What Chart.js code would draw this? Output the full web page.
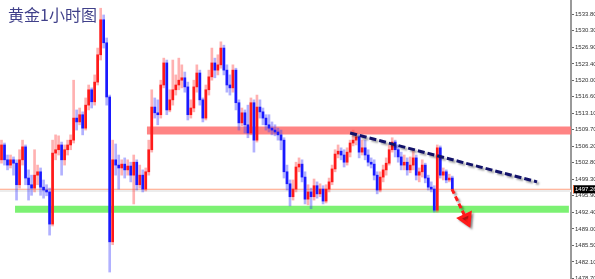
<!DOCTYPE html>
<html>
<head>
<meta charset="utf-8">
<script src="https://cdn.jsdelivr.net/npm/chart.js@4.4.0/dist/chart.umd.min.js"></script>
<style>
body{margin:0;background:#fff;}
#box{position:relative;width:595px;height:279px;}
#title{position:absolute;left:8px;top:6px;font-family:"Noto Sans CJK SC";font-size:16px;line-height:16px;color:#40408a;}
</style>
</head>
<body>
<div id="box">
<canvas id="myChart"></canvas>
<div id="title">黄金1小时图</div>
</div>
<script>
// gold 1h candles (index = bar number)
let opens = [
1503.4,1506.5,1503.4,1502.3,1503.4,1502.7,1498.2,1503.4,1506.1,1499.6,
1498.2,1497.5,1500.2,1500.9,1497.7,1497.1,1496.7,1490.0,1504.8,1505.5,
1506.5,1503.4,1505.5,1506.5,1507.5,1512.1,1511.3,1512.8,1510.0,1514.8,
1518.0,1515.5,1519.6,1525.3,1532.6,1527.8,1516.5,1486.3,1503.4,1502.3,
1501.7,1502.5,1501.3,1502.1,1500.2,1502.9,1498.2,1500.2,1497.3,1500.9,
1505.5,1514.4,1513.2,1512.8,1519.0,1523.6,1513.8,1515.9,1518.0,1519.0,
1520.0,1520.5,1518.6,1512.8,1514.2,1518.6,1521.5,1515.9,1512.1,1518.0,
1520.7,1523.6,1522.1,1523.2,1526.7,1522.1,1519.0,1518.4,1522.1,1515.3,
1511.1,1513.2,1510.7,1509.0,1515.3,1507.5,1514.4,1513.4,1512.1,1510.7,
1510.0,1509.6,1509.2,1508.6,1507.5,1500.9,1498.4,1495.7,1497.3,1501.9,
1502.5,1499.8,1495.2,1496.7,1495.7,1498.0,1496.3,1497.3,1494.8,1497.3,
1498.8,1501.5,1504.6,1505.2,1504.4,1502.9,1505.0,1506.9,1507.5,1508.2,
1505.0,1505.9,1504.4,1502.9,1502.5,1500.2,1497.1,1499.8,1501.3,1502.7,
1505.5,1507.1,1505.5,1504.0,1502.3,1502.9,1501.3,1502.3,1503.8,1500.2,
1500.9,1502.3,1499.6,1497.7,1497.3,1492.9,1505.9,1500.2,1500.9,1499.2,
1499.6];
let closes = [
1506.5,1503.4,1502.3,1503.4,1502.7,1498.2,1503.4,1506.1,1499.6,1498.2,
1497.5,1500.2,1500.9,1497.7,1497.1,1496.7,1490.0,1504.8,1505.5,1506.5,
1503.4,1505.5,1506.5,1507.5,1512.1,1511.3,1512.8,1510.0,1514.8,1518.0,
1515.5,1519.6,1525.3,1532.6,1527.8,1516.5,1486.3,1503.4,1502.3,1501.7,
1502.5,1501.3,1502.1,1500.2,1502.9,1498.2,1500.2,1497.3,1500.9,1505.5,
1514.4,1513.2,1512.8,1519.0,1523.6,1513.8,1515.9,1518.0,1519.0,1520.0,
1520.5,1518.6,1512.8,1514.2,1518.6,1521.5,1515.9,1512.1,1518.0,1520.7,
1523.6,1522.1,1523.2,1526.7,1522.1,1519.0,1518.4,1522.1,1515.3,1511.1,
1513.2,1510.7,1509.0,1515.3,1507.5,1514.4,1513.4,1512.1,1510.7,1510.0,
1509.6,1509.2,1508.6,1507.5,1500.9,1498.4,1495.7,1497.3,1501.9,1502.5,
1499.8,1495.2,1496.7,1495.7,1498.0,1496.3,1497.3,1494.8,1497.3,1498.8,
1501.5,1504.6,1505.2,1504.4,1502.9,1505.0,1506.9,1507.5,1508.2,1505.0,
1505.9,1504.4,1502.9,1502.5,1500.2,1497.1,1499.8,1501.3,1502.7,1505.5,
1507.1,1505.5,1504.0,1502.3,1502.9,1501.3,1502.3,1503.8,1500.2,1500.9,
1502.3,1499.6,1497.7,1497.3,1492.9,1505.9,1500.2,1500.9,1499.2,1499.6,
1497.3];
let highs = [
1507.5,1506.9,1504.4,1504.4,1504.0,1503.4,1505.5,1507.5,1506.5,1501.3,
1500.2,1505.5,1502.3,1501.7,1499.2,1498.2,1497.5,1507.5,1508.6,1508.4,
1507.1,1506.5,1507.5,1508.6,1520.0,1513.8,1514.2,1513.4,1516.3,1519.0,
1518.4,1521.1,1526.7,1535.0,1533.6,1528.8,1516.9,1507.5,1506.7,1504.4,
1503.4,1503.8,1503.4,1502.9,1504.4,1503.4,1502.3,1501.3,1501.7,1507.5,
1518.0,1516.3,1515.9,1520.0,1524.6,1524.2,1518.0,1524.2,1521.1,1524.6,
1523.2,1521.7,1519.6,1515.9,1520.0,1523.2,1522.1,1516.3,1519.0,1522.1,
1526.7,1524.6,1525.3,1528.0,1527.3,1523.2,1521.1,1523.2,1522.5,1515.9,
1514.2,1513.8,1514.8,1516.3,1515.9,1516.9,1515.9,1514.2,1512.8,1512.8,
1511.3,1510.7,1510.0,1509.6,1508.0,1502.3,1499.2,1499.2,1502.9,1503.8,
1503.4,1500.9,1498.2,1497.5,1499.4,1498.8,1498.4,1498.0,1498.2,1499.6,
1502.3,1505.5,1506.5,1505.9,1505.5,1505.9,1507.5,1509.6,1509.0,1508.6,
1507.5,1507.5,1505.5,1503.8,1503.4,1500.9,1500.9,1502.3,1503.8,1506.5,
1508.0,1507.5,1506.5,1505.0,1504.4,1503.8,1504.0,1505.5,1504.4,1501.7,
1503.4,1502.7,1500.2,1498.8,1498.0,1506.5,1506.3,1501.7,1501.3,1500.4,
1500.0];
let lows = [
1502.7,1502.3,1501.3,1501.7,1500.2,1495.0,1497.5,1502.3,1498.2,1495.0,
1496.0,1496.7,1498.2,1496.0,1495.4,1495.9,1487.7,1489.6,1503.4,1504.4,
1500.2,1502.3,1504.4,1505.5,1506.9,1509.6,1510.7,1508.6,1509.6,1513.8,
1514.2,1514.8,1519.0,1524.2,1526.7,1514.8,1480.0,1485.7,1500.2,1497.3,
1500.2,1499.6,1500.2,1498.8,1494.2,1497.1,1497.5,1496.7,1496.9,1500.2,
1505.0,1512.1,1510.7,1512.1,1518.4,1512.8,1513.4,1514.8,1516.9,1518.0,
1518.4,1517.5,1511.7,1512.1,1513.4,1517.5,1514.8,1511.3,1511.7,1516.9,
1520.0,1520.5,1521.1,1522.5,1521.1,1517.5,1516.9,1517.5,1513.8,1509.6,
1510.5,1509.0,1508.0,1508.6,1505.0,1507.1,1512.1,1510.7,1509.6,1509.2,
1508.6,1508.4,1507.5,1505.5,1499.6,1497.1,1493.8,1495.0,1496.7,1500.9,
1498.8,1494.2,1494.0,1493.2,1495.0,1495.4,1495.7,1494.2,1494.4,1496.7,
1498.2,1500.9,1503.8,1503.4,1501.9,1502.3,1504.0,1506.3,1506.5,1503.8,
1504.4,1503.4,1502.1,1501.7,1499.2,1496.3,1496.7,1498.8,1500.2,1502.3,
1505.0,1504.0,1502.9,1501.3,1501.3,1500.2,1500.7,1501.3,1499.2,1498.8,
1499.8,1498.6,1497.1,1496.7,1492.5,1492.5,1499.6,1499.2,1498.6,1498.8,
1497.1];

// price axis labels (MT4 style)
let priceTicks = [1533.80,1530.30,1526.90,1523.40,1520.00,1516.60,1513.10,1509.70,
  1506.20,1502.80,1499.30,1495.90,1492.40,1489.00,1485.50,1482.10,1478.70];
let lastPrice = 1497.26;

// drawn objects: [bar index, price]
let resistance = [[48.4, 1509.5], [189.5, 1509.5]];
let support = [[4.5, 1493.1], [188.8, 1493.1]];
let trendLine = [[116.0, 1509.0], [178.2, 1498.8]];
let arrowPath = [[149.9, 1497.3], [154.6, 1491.1]];

let up = "#ff1a1a";
let down = "#1a1aff";

let bodies = [];
let wicks = [];
let bodyColors = [];
let wickColors = [];
for (let i = 0; i < opens.length; i++) {
  bodies.push({x: i, y: [opens[i], closes[i]]});
  wicks.push({x: i, y: [lows[i], highs[i]]});
  if (closes[i] >= opens[i]) {
    bodyColors.push(up);
    wickColors.push("rgba(255,60,60,0.4)");
  } else {
    bodyColors.push(down);
    wickColors.push("rgba(60,60,255,0.4)");
  }
}

function pts(arr) {
  return arr.map(p => ({x: p[0], y: p[1]}));
}

// dashed lines get a little drop shadow like the original drawing
const shadowPlugin = {
  id: "shadow",
  beforeDatasetDraw(chart, args) {
    if (chart.data.datasets[args.index].shadow) {
      let ctx = chart.ctx;
      ctx.save();
      ctx.shadowColor = "rgba(0,0,0,0.35)";
      ctx.shadowOffsetX = 2;
      ctx.shadowOffsetY = 2;
      ctx.shadowBlur = 2;
    }
  },
  afterDatasetDraw(chart, args) {
    if (chart.data.datasets[args.index].shadow) {
      chart.ctx.restore();
    }
  }
};

// black current price box on the axis
const priceTag = {
  id: "priceTag",
  afterDraw(chart) {
    let ctx = chart.ctx;
    let y = chart.scales.y.getPixelForValue(lastPrice);
    let x = chart.chartArea.right + 2;
    ctx.save();
    ctx.fillStyle = "#000";
    ctx.fillRect(x, y - 4, 595 - x, 8);
    ctx.fillStyle = "#ff6a30";
    ctx.fillRect(x, y - 4, 1, 8);
    ctx.fillStyle = "#fff";
    ctx.font = "6px 'Liberation Sans'";
    ctx.textBaseline = "middle";
    ctx.fillText(lastPrice.toFixed(2), x + 2, y);
    ctx.restore();
  }
};

new Chart("myChart", {
  type: "bar",
  data: {
    datasets: [
      {type: "line", data: pts(resistance), borderColor: "rgba(255,110,110,0.85)", borderWidth: 8,
        borderCapStyle: "butt", pointRadius: 0, order: 10},
      {type: "line", data: pts(support), borderColor: "rgba(110,240,100,0.9)", borderWidth: 7,
        borderCapStyle: "butt", pointRadius: 0, order: 10},
      {type: "line", data: [{x: -0.5, y: lastPrice - 0.35}, {x: 189.5, y: lastPrice - 0.35}],
        borderColor: "#ececec", borderWidth: 2, pointRadius: 0, order: 9},
      {type: "line", data: [{x: -0.5, y: lastPrice}, {x: 189.5, y: lastPrice}],
        borderColor: "#ffa080", borderWidth: 1, pointRadius: 0, order: 8},
      {data: wicks, backgroundColor: wickColors, barThickness: 2, grouped: false, order: 5},
      {data: bodies, backgroundColor: bodyColors, barThickness: 2, grouped: false, order: 4},
      {type: "line", data: pts(trendLine), borderColor: "#12126a", borderWidth: 3,
        borderDash: [7, 3], pointRadius: 0, shadow: true, order: 2},
      {type: "line", data: pts(arrowPath), borderColor: up, borderWidth: 3, borderDash: [5, 3],
        pointRadius: [0, 7], pointStyle: "triangle", pointRotation: 155,
        pointBackgroundColor: up, pointBorderColor: up, shadow: true, order: 1}
    ]
  },
  options: {
    responsive: true,
    maintainAspectRatio: false,
    animation: false,
    devicePixelRatio: 1,
    layout: {padding: 0, autoPadding: false},
    plugins: {legend: {display: false}, tooltip: {enabled: false}},
    scales: {
      x: {type: "linear", display: false, min: -0.5, max: 189.5, offset: false},
      y: {
        position: "right",
        min: 1478.55,
        max: 1536.72,
        beginAtZero: false,
        afterBuildTicks(scale) {
          scale.ticks = priceTicks.map(v => ({value: v}));
        },
        afterFit(scale) {
          // full height plot, labels at the edge may get cut like in MT4
          scale.width = 24;
          scale.paddingTop = 0;
          scale.paddingBottom = 0;
        },
        ticks: {
          autoSkip: false,
          padding: 1,
          color: "#333",
          font: {size: 6, family: "Liberation Sans"},
          callback: v => v.toFixed(2)
        },
        grid: {drawOnChartArea: false, tickLength: 3, color: "#666"},
        border: {display: true, color: "#999", width: 2}
      }
    }
  },
  plugins: [shadowPlugin, priceTag]
});
</script>
</body>
</html>
